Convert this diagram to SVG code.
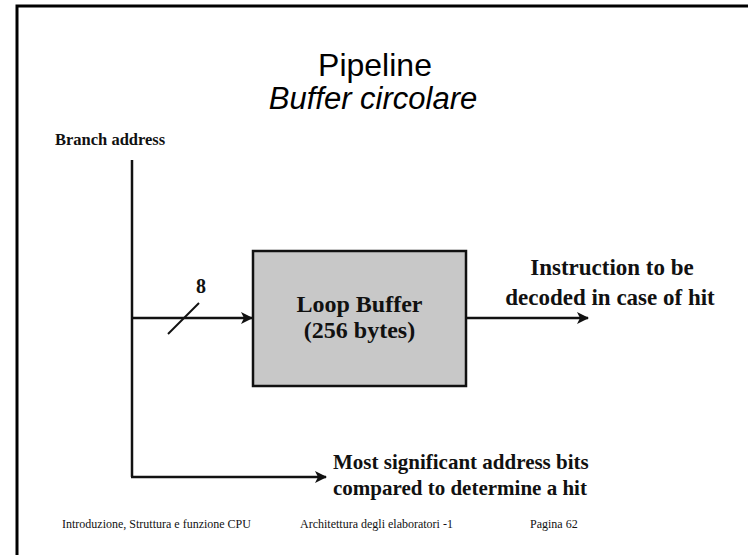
<svg xmlns="http://www.w3.org/2000/svg" width="748" height="555" viewBox="0 0 748 555">
  <style>
    .lbl { font-family: "Liberation Serif", "Times New Roman", serif; font-weight: bold; fill: #111; }
    .foot { font-family: "Liberation Serif", "Times New Roman", serif; font-size: 12px; fill: #111; }
    .title { font-family: "Liberation Sans", Arial, sans-serif; fill: #000; text-anchor: middle; }
    .wire { stroke: #111; stroke-width: 2.5; fill: none; }
  </style>
  <defs>
    <marker id="arrow" markerWidth="12" markerHeight="12" refX="11" refY="6" orient="auto" markerUnits="userSpaceOnUse" viewBox="0 0 12 12">
      <path d="M0,0 L12,6 L0,12 L3,6 Z" fill="#111"/>
    </marker>
  </defs>
  <rect width="748" height="555" fill="#fff"/>
  <!-- slide frame -->
  <path d="M17,560 L17,6 L760,6" stroke="#000" stroke-width="3" fill="none"/>

  <g id="title">
    <text class="title" x="375" y="76" font-size="32">Pipeline</text>
    <text class="title" x="373" y="109" font-size="31" font-style="italic">Buffer circolare</text>
  </g>

  <g id="branch-address">
    <text class="lbl" x="55" y="145" font-size="16.5">Branch address</text>
  </g>

  <g id="loop-buffer">
    <rect x="253" y="251" width="213" height="135" fill="#c8c8c8" stroke="#111" stroke-width="2.5"/>
    <text class="lbl" x="359.5" y="312" text-anchor="middle" font-size="24">Loop Buffer</text>
    <text class="lbl" x="359.5" y="338" text-anchor="middle" font-size="24">(256 bytes)</text>
  </g>

  <g id="output-label">
    <text class="lbl" x="612" y="275" text-anchor="middle" font-size="23">Instruction to be</text>
    <text class="lbl" x="610" y="305" text-anchor="middle" font-size="23">decoded in case of hit</text>
  </g>

  <g id="compare-label">
    <text class="lbl" x="333" y="469" font-size="21">Most significant address bits</text>
    <text class="lbl" x="333" y="495" font-size="21">compared to determine a hit</text>
  </g>

  <g id="connectors">
    <line class="wire" x1="132" y1="160" x2="132" y2="477"/>
    <line class="wire" x1="132" y1="318" x2="252" y2="318" marker-end="url(#arrow)"/>
    <line x1="168" y1="334" x2="199" y2="303" stroke="#111" stroke-width="2"/>
    <text class="lbl" x="201" y="293" text-anchor="middle" font-size="20">8</text>
    <line class="wire" x1="466" y1="318" x2="588" y2="318" marker-end="url(#arrow)"/>
    <line class="wire" x1="131" y1="477" x2="326" y2="477" marker-end="url(#arrow)"/>
  </g>

  <g id="footer">
    <text class="foot" x="62" y="528">Introduzione, Struttura e funzione CPU</text>
    <text class="foot" x="300" y="528">Architettura degli elaboratori -1</text>
    <text class="foot" x="530" y="528">Pagina 62</text>
  </g>
</svg>
